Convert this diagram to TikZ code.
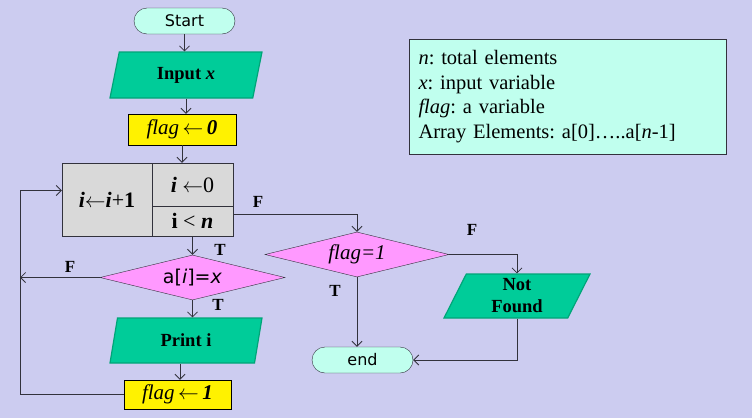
\documentclass[tikz,border=0pt]{standalone}
\usepackage{fontspec}
\setmainfont{Liberation Serif}
\newfontfamily\sansf{DejaVu Sans}
\usetikzlibrary{shapes.geometric,arrows.meta,calc}
\frenchspacing
\definecolor{bgc}{RGB}{204,204,240}
\definecolor{termc}{RGB}{192,255,238}
\definecolor{ioc}{RGB}{0,204,153}
\definecolor{ioedge}{RGB}{0,165,120}
\definecolor{decc}{RGB}{255,153,255}
\definecolor{procc}{RGB}{217,217,217}
\definecolor{lnc}{RGB}{50,50,60}
\newcommand{\larr}{\ensuremath{\leftarrow}}
\begin{document}
\begin{tikzpicture}[x=1pt,y=-1pt,
  termbox/.style={draw=lnc, fill=termc, rounded corners=13pt, minimum width=101pt, minimum height=26pt, inner sep=0pt, font=\sansf\fontsize{16}{18}\selectfont},
  iobox/.style={trapezium, trapezium left angle=60, trapezium right angle=120, trapezium stretches body, draw=ioedge, line width=1.2pt, fill=ioc, minimum height=46pt, minimum width=152pt, inner sep=0pt, align=center, font=\bfseries\fontsize{18.5}{22}\selectfont},
  yellowbox/.style={draw=black, fill=yellow, minimum width=108pt, minimum height=31pt, inner sep=0pt, font=\fontsize{21}{22}\selectfont},
  graybox/.style={draw=lnc, fill=procc, inner sep=0pt, font=\fontsize{22}{24}\selectfont},
  decbox/.style={diamond, draw=lnc, fill=decc, aspect=4.1, minimum width=185pt, minimum height=45pt, inner sep=0pt},
  conn/.style={draw=lnc, line width=0.8pt},
  arr/.style={conn, -{Straight Barb[length=5pt,width=10pt]}},
  lbl/.style={font=\bfseries\fontsize{17}{18}\selectfont, inner sep=0pt}]
\fill[bgc] (0,0) rectangle (752,418);
\useasboundingbox (0,0) rectangle (752,418);

\node[termbox] (start) at (184.5,21) {Start};
\node[iobox] (input) at (186,75) {Input \textit{x}};
\node[yellowbox] (flag0) at (182,129.5) {\textit{flag}\,\larr\,\textbf{\textit{0}}};
\node[graybox, minimum width=90pt, minimum height=73pt] (loopL) at (107,199.5) {\textbf{\textit{i}}\larr\textbf{\textit{i}}+\textbf{1}};
\node[graybox, minimum width=81pt, minimum height=43pt] (loopI) at (192.5,184.5) {\textbf{\textit{i}} \larr0};
\node[graybox, minimum width=81pt, minimum height=30pt] (loopC) at (192.5,221) {\textbf{i} < \textbf{\textit{n}}};
\node[decbox, font=\sansf\fontsize{19}{20}\selectfont] (dec1) at (192.5,277.5) {a[\textit{i}]=\textit{x}};
\node[iobox, minimum height=45pt] (print) at (186,340.5) {Print i};
\node[yellowbox, minimum width=107pt, minimum height=29pt] (flag1) at (177.5,394.5) {\textit{flag}\,\larr\,\textbf{\textit{1}}};
\node[decbox, minimum width=184pt, font=\itshape\fontsize{21}{22}\selectfont] (dec2) at (357,254.5) {flag=1};
\node[iobox, trapezium left angle=57, trapezium right angle=123, minimum width=146pt, minimum height=44pt, font=\bfseries\fontsize{18.5}{22}\selectfont] (notfound) at (517,296) {Not\\Found};
\node[termbox] (end) at (362.5,360) {end};

\node[draw=lnc, fill=termc, minimum width=317pt, minimum height=115pt, text width=299pt, align=left, inner sep=0pt, font=\fontsize{20.5}{24.5}\selectfont] (legend) at (568,96.5)
  {\textit{n}: total elements\\\textit{x}: input variable\\\textit{flag}: a variable\\Array Elements: a[0]…..a[\textit{n}-1]};

\coordinate (lp) at (20,190.5);

\draw[arr] (start.south) -- (start.south |- input.north);
\draw[arr] (input.south) -- (input.south |- flag0.north);
\draw[arr] (flag0.south) -- (flag0.south |- loopI.north);
\draw[arr] (loopC.south) -- (dec1.north);
\draw[arr] (dec1.south) -- (dec1.south |- print.north);
\draw[arr] ([xshift=2.5pt]flag1.north |- print.south) -- ([xshift=2.5pt]flag1.north);
\draw[arr] (flag1.west) -| (lp) -- ([yshift=9pt]loopL.west);
\draw[arr] (dec1.west) -- (dec1.west -| lp);
\draw[arr] ([yshift=7pt]loopC.east) -| (dec2.north);
\draw[arr] (dec2.east) -| (notfound.north);
\draw[arr] (dec2.south) -- (dec2.south |- end.north);
\draw[arr] (notfound.south) |- (end.east);

\node[lbl] (fa) at (258,202) {F};
\node[lbl] (fb) at (70,267) {F};
\node[lbl] (ta) at (220,250) {T};
\node[lbl] (tb) at (218,305) {T};
\node[lbl] (fc) at (472,230) {F};
\node[lbl] (tc) at (335,291) {T};
\end{tikzpicture}
\end{document}
